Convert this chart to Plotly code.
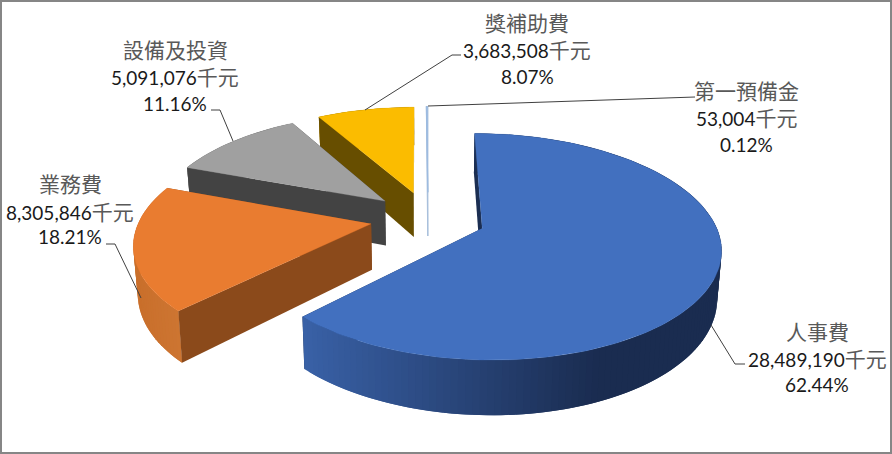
import numpy as np
import plotly.graph_objects as go

categories = ['人事費', '業務費', '設備及投資', '獎補助費', '第一預備金']
values = [28489190, 8305846, 5091076, 3683508, 53004]
percents = [62.44, 18.21, 11.16, 8.07, 0.12]

top_colors = ['#4270BF', '#E97C30', '#A0A0A0', '#FBBC00', '#9DBBE0']
wall_colors = ['#1B2E52', '#8B4A1B', '#434343', '#674E00', '#A9C0DC']
rim_left = ['#3A62A8', '#C96F2B', '#6F6F6F', '#A98000', '#5B9BD5']
rim_right = ['#1A2C50', '#CE7633', '#6F6F6F', '#A98000', '#5B9BD5']
rim_dark_x = [604, 185, 400, 420, 430]
top_lines = [0.3, 0.3, 0.3, 0.3, 1.2]
wall_lines = [0, 0, 0, 0, 1.2]

# pie geometry, in page pixels
cx, cy = 428, 218
rx, ry = 231, 107
persp = 0.16
height = 45.5
explode = 0.25

# label rows: centre x, then y of the three text lines
label_x = [817, 70, 175, 527, 746]
label_y = [[331, 358, 384], [183, 211, 236], [49, 76, 103], [22, 49, 76], [90, 117, 144]]

# leader lines
leader_x = [[711, 735, 745], [141, 115, 106], [233, 220, 211], [365, 452, 461], [428, 692, 695]]
leader_y = [[325, 364, 364], [298, 244, 244], [141, 110, 110], [110, 55, 55], [106, 97, 97]]


def project(gx, gy, low=False):
    w = 1 / (1 - persp * gy)
    x = gx * rx * w
    y = gy * ry * w
    if low:
        return cx + x * 0.985, cy + y + height * w
    return cx + x, cy + y


def poly(x, y, color, line=0.0):
    return go.Scatter(x=list(x), y=list(y), mode='lines', fill='toself', fillcolor=color,
                      line=dict(color=color, width=line), hoverinfo='skip', showlegend=False)


def mix(c1, c2, t):
    a = [int(c1[i:i + 2], 16) for i in (1, 3, 5)]
    b = [int(c2[i:i + 2], 16) for i in (1, 3, 5)]
    return 'rgb(%d,%d,%d)' % tuple(a[i] + (b[i] - a[i]) * t for i in range(3))


fig = go.Figure()

total = sum(values)
ends = np.cumsum(values) / total * 2 * np.pi
starts = np.concatenate([[0], ends[:-1]])

# paint the slices back to front
for i in [4, 3, 2, 1, 0]:
    mid = (starts[i] + ends[i]) / 2
    ox, oy = explode * np.sin(mid), -explode * np.cos(mid)
    n = max(int(np.degrees(ends[i] - starts[i]) / 1.5), 2)
    t = np.linspace(starts[i], ends[i], n + 1)
    gx = ox + np.sin(t)
    gy = oy - np.cos(t)

    tx, ty = project(gx, gy)
    bx, by = project(gx, gy, low=True)
    ax, ay = project(ox, oy)
    alx, aly = project(ox, oy, low=True)

    # hidden cut face first, the rim covers it
    fig.add_trace(poly([ax, tx[-1], bx[-1], alx], [ay, ty[-1], by[-1], aly], wall_colors[i], wall_lines[i]))

    # outer rim, shaded across the page. each quad runs under the next one so no seams show
    if i != 4:
        x_lo = tx.min()
        for k in range(n - 1, -1, -1):
            shade = min(max((tx[k] - x_lo) / max(rim_dark_x[i] - x_lo, 1), 0), 1)
            j = max(k - 1, 0)
            fig.add_trace(poly([tx[j], tx[k], tx[k + 1], bx[k + 1], bx[k], bx[j]],
                               [ty[j], ty[k], ty[k + 1], by[k + 1], by[k], by[j]],
                               mix(rim_left[i], rim_right[i], shade)))

    fig.add_trace(poly([ax, tx[0], bx[0], alx], [ay, ty[0], by[0], aly], wall_colors[i], wall_lines[i]))

    # top face
    fig.add_trace(poly(np.concatenate([[ax], tx]), np.concatenate([[ay], ty]), top_colors[i], top_lines[i]))

    fig.add_trace(go.Scatter(x=leader_x[i], y=leader_y[i], mode='lines',
                             line=dict(color='#404040', width=1), hoverinfo='skip', showlegend=False))

cjk = 'Noto Sans CJK TC'
num = 'Lato, Noto Sans CJK TC'
annotations = []
for i, name in enumerate(categories):
    rows = [
        (name, 21, cjk, '#595959'),
        ('{:,}<span style="font-size:21px;fill:#595959">千元</span>'.format(values[i]), 19, num, '#1a1a1a'),
        ('{:.2f}%'.format(percents[i]), 19, num, '#1a1a1a'),
    ]
    for (text, size, family, color), y in zip(rows, label_y[i]):
        annotations.append(dict(x=label_x[i], y=y, text=text, showarrow=False, xanchor='center',
                                yanchor='middle', font=dict(size=size, family=family, color=color)))

fig.update_layout(
    width=892, height=454, autosize=False,
    margin=dict(l=0, r=0, t=0, b=0),
    paper_bgcolor='white', plot_bgcolor='white',
    xaxis=dict(range=[0, 892], visible=False, fixedrange=True),
    yaxis=dict(range=[454, 0], visible=False, fixedrange=True),
    annotations=annotations,
    shapes=[dict(type='rect', x0=1, y0=1, x1=891, y1=453, line=dict(color='#868686', width=2))],
)

fig.write_html('out.html', config=dict(displayModeBar=False), post_script="document.body.style.margin='0';")
